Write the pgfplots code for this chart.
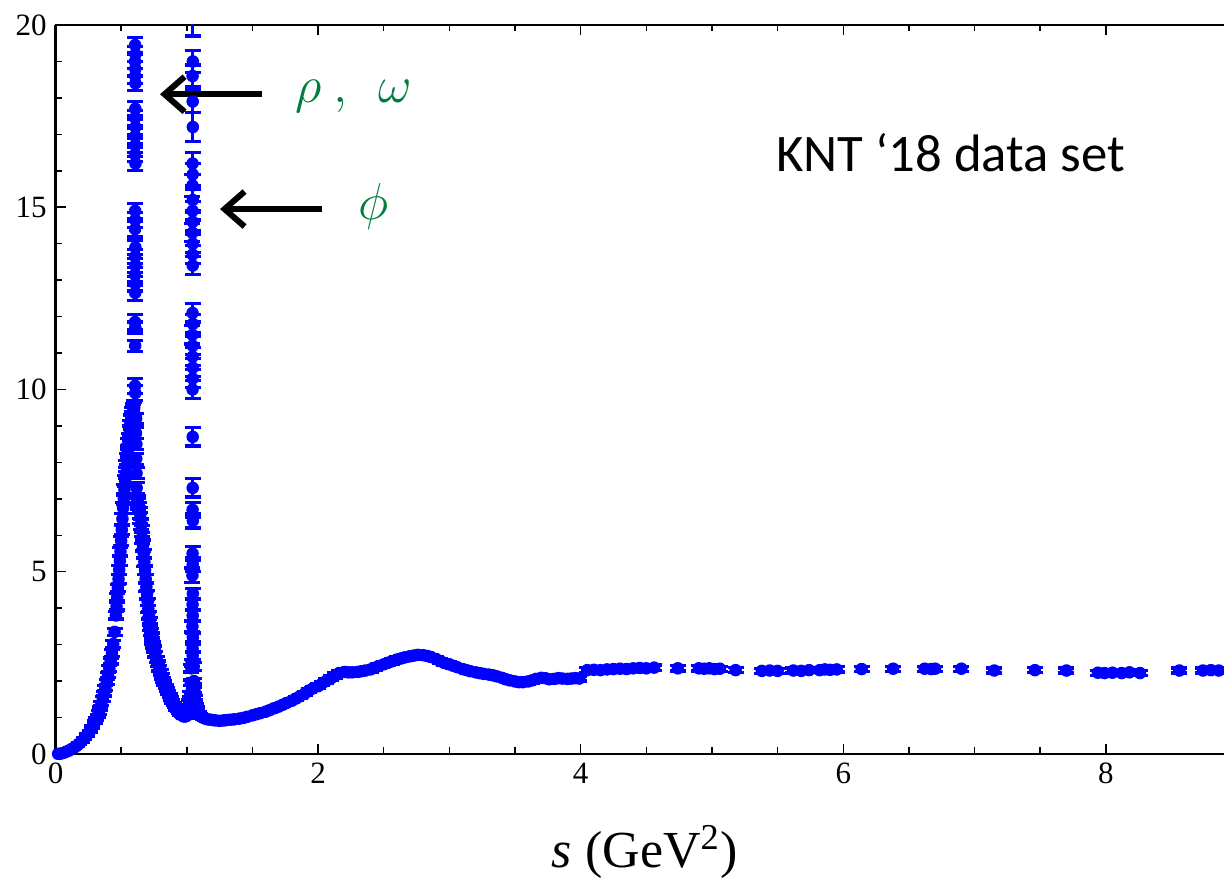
\documentclass[border=0pt]{standalone}
\usepackage{pgfplots}
\pgfplotsset{compat=1.18}
\usepackage{pgfplotstable}
\usepackage{fontspec}
\setmainfont{Liberation Serif}
\newfontfamily\timesfont{Liberation Serif}
\newfontfamily\calibri{Carlito}
\usetikzlibrary{arrows.meta}
\definecolor{labgreen}{RGB}{0,125,60}
\definecolor{ptblue}{RGB}{0,0,255}

\pgfplotstableread{
s R e
0.02 0.005 0.005
0.04 0.01 0.005
0.06 0.03 0.01
0.08 0.06 0.01
0.10 0.09 0.01
0.12 0.13 0.01
0.14 0.17 0.02
0.16 0.22 0.02
0.18 0.28 0.02
0.20 0.35 0.02
0.22 0.43 0.02
0.24 0.52 0.03
0.26 0.62 0.03
0.28 0.74 0.03
0.30 0.87 0.04
0.31 0.95 0.04
0.32 1.04 0.04
0.33 1.14 0.05
0.34 1.26 0.05
0.35 1.38 0.05
0.36 1.51 0.06
0.37 1.65 0.06
0.38 1.81 0.06
0.39 1.98 0.07
0.40 2.16 0.07
0.41 2.35 0.08
0.42 2.55 0.08
0.43 2.77 0.09
0.44 3.02 0.09
0.45 3.35 0.10
0.46 3.80 0.10
0.465 4.05 0.10
0.47 4.30 0.10
0.475 4.55 0.10
0.48 4.80 0.12
0.485 5.05 0.12
0.49 5.30 0.12
0.495 5.55 0.12
0.50 5.85 0.12
0.505 6.15 0.12
0.51 6.45 0.15
0.515 6.75 0.15
0.52 7.00 0.15
0.525 7.25 0.15
0.53 7.50 0.15
0.535 7.70 0.15
0.54 7.90 0.15
0.545 8.10 0.15
0.55 8.30 0.15
0.555 8.50 0.15
0.56 8.65 0.15
0.565 8.80 0.20
0.57 8.95 0.20
0.575 9.10 0.20
0.58 9.20 0.20
0.585 9.30 0.20
0.59 9.40 0.20
0.595 9.45 0.20
0.60 9.50 0.20
0.622 7.00 0.15
0.627 6.95 0.15
0.632 6.85 0.15
0.637 6.75 0.15
0.642 6.62 0.15
0.647 6.48 0.15
0.652 6.30 0.15
0.657 6.12 0.15
0.662 5.92 0.15
0.667 5.72 0.15
0.672 5.50 0.12
0.677 5.27 0.12
0.682 5.04 0.12
0.687 4.80 0.12
0.692 4.58 0.12
0.697 4.37 0.12
0.702 4.17 0.10
0.707 3.98 0.10
0.712 3.80 0.10
0.717 3.64 0.10
0.722 3.49 0.10
0.727 3.35 0.10
0.732 3.22 0.10
0.737 3.10 0.08
0.742 2.99 0.08
0.75 2.88 0.08
0.76 2.74 0.08
0.77 2.60 0.08
0.78 2.47 0.08
0.79 2.35 0.07
0.80 2.24 0.07
0.81 2.13 0.07
0.82 2.03 0.06
0.83 1.94 0.06
0.84 1.85 0.06
0.85 1.76 0.05
0.86 1.68 0.05
0.87 1.60 0.05
0.88 1.52 0.05
0.89 1.45 0.05
0.90 1.38 0.04
0.91 1.31 0.04
0.92 1.25 0.04
0.93 1.20 0.04
0.94 1.15 0.04
0.95 1.10 0.04
0.96 1.07 0.04
0.97 1.04 0.04
0.98 1.03 0.04
0.99 1.03 0.04
1.00 1.05 0.04
1.005 1.10 0.05
1.01 1.17 0.05
1.015 1.27 0.05
1.02 1.42 0.06
1.025 1.65 0.07
1.03 1.95 0.08
1.035 2.35 0.10
1.038 2.50 0.10
1.052 2.40 0.10
1.055 2.00 0.08
1.058 1.75 0.07
1.062 1.55 0.06
1.066 1.42 0.06
1.07 1.33 0.05
1.075 1.25 0.05
1.08 1.19 0.05
1.09 1.12 0.04
1.10 1.07 0.04
1.11 1.03 0.04
1.12 1.00 0.04
1.14 0.97 0.04
1.16 0.95 0.04
1.18 0.94 0.04
1.20 0.93 0.04
1.22 0.92 0.04
1.25 0.91 0.04
1.28 0.92 0.04
1.30 0.93 0.04
1.33 0.94 0.04
1.36 0.95 0.04
1.40 0.97 0.04
1.43 0.99 0.04
1.46 1.02 0.05
1.50 1.06 0.05
1.53 1.09 0.05
1.56 1.12 0.05
1.60 1.16 0.05
1.63 1.20 0.05
1.66 1.25 0.05
1.70 1.30 0.05
1.73 1.35 0.05
1.76 1.40 0.05
1.80 1.46 0.05
1.83 1.52 0.05
1.86 1.58 0.05
1.90 1.66 0.06
1.93 1.74 0.06
1.96 1.80 0.06
2.00 1.86 0.06
2.03 1.93 0.06
2.06 2.00 0.06
2.10 2.08 0.07
2.13 2.15 0.07
2.16 2.22 0.07
2.20 2.25 0.07
2.23 2.24 0.07
2.26 2.24 0.07
2.30 2.25 0.07
2.33 2.27 0.07
2.36 2.29 0.07
2.40 2.32 0.07
2.43 2.36 0.07
2.46 2.41 0.07
2.50 2.46 0.07
2.53 2.50 0.07
2.56 2.54 0.07
2.60 2.59 0.07
2.63 2.62 0.07
2.66 2.65 0.07
2.70 2.68 0.07
2.73 2.70 0.07
2.76 2.72 0.07
2.80 2.71 0.07
2.83 2.69 0.07
2.86 2.66 0.07
2.90 2.60 0.07
2.93 2.55 0.07
2.96 2.50 0.07
3.00 2.46 0.07
3.03 2.42 0.07
3.06 2.38 0.07
3.10 2.33 0.07
3.13 2.30 0.07
3.16 2.27 0.07
3.20 2.24 0.07
3.23 2.22 0.07
3.26 2.20 0.07
3.30 2.18 0.07
3.33 2.16 0.07
3.36 2.13 0.07
3.40 2.09 0.07
3.43 2.05 0.07
3.46 2.02 0.07
3.50 1.99 0.07
3.53 1.97 0.07
3.56 1.97 0.07
3.60 1.99 0.07
3.63 2.02 0.07
3.66 2.06 0.07
3.70 2.09 0.07
3.73 2.08 0.07
3.76 2.05 0.07
3.80 2.06 0.07
3.83 2.08 0.07
3.86 2.07 0.07
3.90 2.06 0.07
3.93 2.07 0.07
3.96 2.08 0.07
3.99 2.07 0.07
4.05 2.30 0.07
4.10 2.31 0.07
4.15 2.30 0.07
4.20 2.32 0.07
4.25 2.33 0.07
4.30 2.34 0.07
4.35 2.33 0.07
4.40 2.35 0.07
4.45 2.36 0.07
4.50 2.35 0.07
4.56 2.37 0.07
4.74 2.35 0.07
4.90 2.35 0.07
4.94 2.34 0.07
4.98 2.35 0.07
5.02 2.33 0.07
5.06 2.34 0.07
5.18 2.30 0.07
5.38 2.28 0.07
5.44 2.29 0.07
5.50 2.28 0.07
5.62 2.29 0.07
5.68 2.28 0.07
5.74 2.30 0.07
5.82 2.30 0.07
5.86 2.32 0.07
5.90 2.31 0.07
5.95 2.32 0.07
6.14 2.33 0.07
6.38 2.34 0.07
6.62 2.34 0.07
6.67 2.33 0.07
6.70 2.34 0.07
6.90 2.34 0.07
7.15 2.29 0.07
7.46 2.30 0.07
7.70 2.29 0.07
7.94 2.23 0.07
7.99 2.22 0.07
8.05 2.23 0.07
8.12 2.22 0.07
8.18 2.24 0.07
8.26 2.22 0.07
8.56 2.29 0.07
8.74 2.29 0.07
8.80 2.30 0.07
8.86 2.29 0.07
}\maindata

\pgfplotstableread{
s R e
0.607 19.45 0.20
0.609 19.20 0.20
0.606 19.00 0.20
0.608 18.80 0.20
0.607 18.60 0.20
0.609 18.40 0.20
0.608 17.70 0.20
0.606 17.45 0.20
0.609 17.20 0.20
0.607 16.95 0.20
0.608 16.70 0.20
0.606 16.45 0.20
0.609 16.20 0.20
0.607 14.90 0.20
0.608 14.65 0.20
0.606 14.40 0.20
0.609 13.90 0.20
0.607 13.65 0.20
0.608 13.40 0.20
0.606 13.15 0.20
0.608 12.90 0.20
0.607 12.65 0.20
0.606 11.85 0.20
0.608 11.70 0.15
0.607 11.20 0.15
0.606 10.10 0.20
0.608 9.90 0.20
0.614 9.20 0.15
0.613 8.80 0.15
0.616 8.50 0.15
0.615 8.10 0.15
0.617 7.70 0.15
0.618 7.30 0.15
}\omegadata

\pgfplotstableread{
s R e
1.045 21.50 1.80
1.046 19.00 0.30
1.044 18.60 0.30
1.045 17.90 0.30
1.046 17.20 0.40
1.044 16.20 0.30
1.045 15.90 0.30
1.043 15.60 0.30
1.046 15.20 0.30
1.044 14.90 0.25
1.045 14.60 0.25
1.043 14.30 0.25
1.046 14.00 0.25
1.044 13.70 0.25
1.045 13.40 0.25
1.044 12.10 0.25
1.046 11.80 0.25
1.043 11.50 0.25
1.045 11.20 0.25
1.044 10.90 0.25
1.046 10.60 0.25
1.045 10.30 0.25
1.044 10.00 0.25
1.045 8.70 0.25
1.045 7.30 0.25
1.044 6.70 0.20
1.046 6.40 0.20
1.044 5.50 0.20
1.045 5.20 0.20
1.043 4.90 0.20
1.046 4.40 0.15
1.044 4.10 0.15
1.045 3.80 0.15
1.043 3.50 0.15
1.046 3.20 0.12
1.044 2.90 0.12
1.045 2.70 0.12
}\phidata

\pgfplotsset{
  knt/.style={only marks, mark=*, mark size=2.3pt, color=ptblue, fill=ptblue,
    error bars/y dir=both, error bars/y explicit,
    error bars/error bar style={line width=1.3pt, color=ptblue},
    error bars/error mark options={rotate=90, mark size=3.2pt, line width=1.3pt, color=ptblue}},
}

\begin{document}
\begin{tikzpicture}
\begin{axis}[
  scale only axis, width=467.4pt, height=291.6pt,
  xmin=0, xmax=8.9, ymin=0, ymax=20,
  axis y line*=left,
  axis x line*=box,
  tick align=inside,
  xtick={0,2,4,6,8}, minor x tick num=3,
  ytick={0,5,10,15,20}, minor y tick num=4,
  major tick length=4pt, minor tick length=2.6pt,
  every tick/.style={black, line width=0.6pt},
  axis line style={line width=0.9pt, black},
  tick label style={font=\timesfont\fontsize{12.4}{14}\selectfont},
  /pgf/number format/assume math mode=true,
  xlabel={\textit{s} (GeV\textsuperscript{2})},
  xlabel style={font=\timesfont\fontsize{20.8}{24}\selectfont, at={(axis description cs:0.5,0)}, anchor=base, yshift=-45.6pt, xshift=2pt},
  clip=true,
]
\addplot[knt] table[x=s, y=R, y error=e]{\maindata};
\addplot[knt] table[x=s, y=R, y error=e]{\omegadata};
\addplot[knt] table[x=s, y=R, y error=e]{\phidata};
\coordinate (bl) at (rel axis cs:0,0);
\draw[line width=2.4pt, -{Straight Barb[length=8pt,width=14pt]}] (axis cs:1.573,18.10) -- (axis cs:0.796,18.10);
\draw[line width=2.4pt, -{Straight Barb[length=8pt,width=14pt]}] (axis cs:2.030,14.95) -- (axis cs:1.253,14.95);
\node[anchor=base west, inner sep=0pt, text=labgreen, font=\fontsize{21}{25}\selectfont] at (axis cs:1.824,17.86) {$\rho\mkern4mu,\mkern8mu\omega$};
\node[anchor=base west, inner sep=0pt, text=labgreen, font=\fontsize{21}{25}\selectfont] at (axis cs:2.304,14.65) {$\phi$};
\node[anchor=base west, inner sep=0pt, font=\calibri\fontsize{21.1}{25}\selectfont] at (axis cs:5.487,15.98) {KNT ‘18 data set};
\end{axis}
\pgfresetboundingbox
\path (bl) ++(-22.2pt,-50.4pt) rectangle ++(489.6pt,352pt);
\end{tikzpicture}
\end{document}
